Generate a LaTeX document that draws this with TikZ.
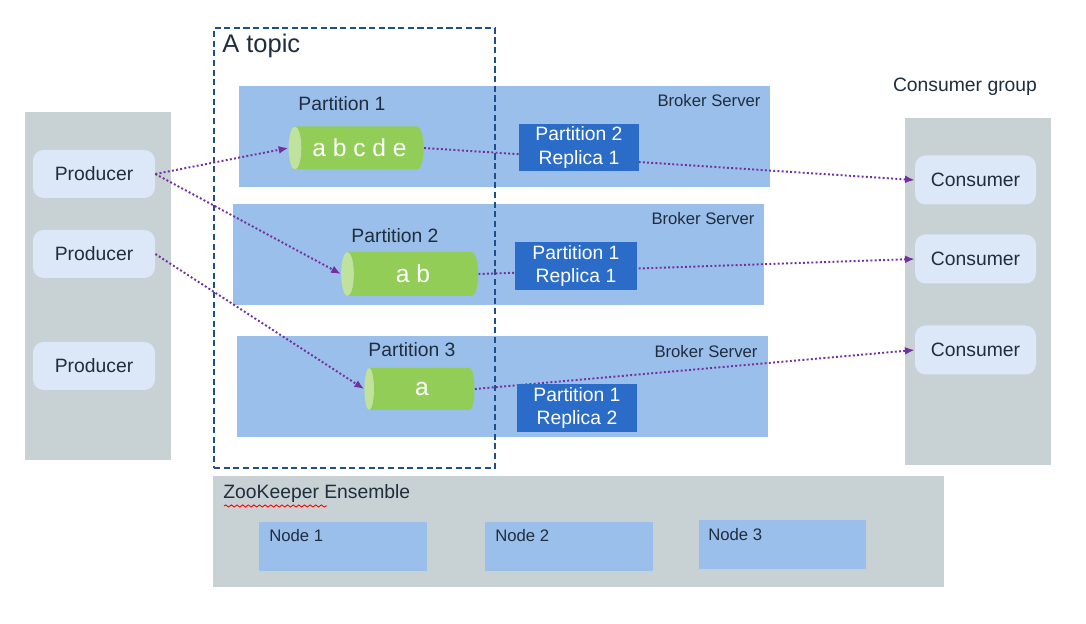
\documentclass[tikz,border=0pt]{standalone}
\usepackage{fontspec}
\setmainfont{Liberation Sans}
\usetikzlibrary{shapes.geometric, arrows.meta, decorations.pathmorphing}
\tikzset{>={Latex[length=5.5pt,width=4.5pt]}}
\definecolor{panelgray}{HTML}{C8D1D3}
\definecolor{brokerblue}{HTML}{9BBFEB}
\definecolor{clientblue}{HTML}{DCE8F7}
\definecolor{partgreen}{HTML}{92CD57}
\definecolor{capgreen}{HTML}{BFE29C}
\definecolor{replicablue}{HTML}{2A6CC7}
\definecolor{topicblue}{HTML}{1F4E8C}
\definecolor{flowpurple}{HTML}{7030A0}
\definecolor{ink}{HTML}{1F2D3D}
\tikzset{
  wh/.style 2 args = {minimum width=#1*0.02cm, minimum height=#2*0.02cm},
  panel/.style = {fill=panelgray, anchor=north west, inner sep=0pt},
  broker/.style = {fill=brokerblue, anchor=north west, inner sep=0pt},
  client/.style = {fill=clientblue, rounded corners=6pt, inner sep=0pt, text=ink, font=\fontsize{11}{13}\selectfont},
  caption/.style = {text=ink, inner sep=0pt, font=\fontsize{11}{13}\selectfont},
  small caption/.style = {text=ink, inner sep=0pt, font=\fontsize{9.5}{11}\selectfont},
  replica/.style = {fill=replicablue, text=white, align=center, inner sep=0pt, font=\fontsize{11}{13.5}\selectfont},
  msgs/.style = {cylinder, shape border rotate=180, aspect=0.7, inner sep=0pt,
     cylinder uses custom fill, cylinder body fill=partgreen, cylinder end fill=capgreen,
     text=white, font=\fontsize{14}{16}\selectfont},
  flow/.style = {->, flowpurple, line width=1.1pt, dash pattern=on 1.1pt off 1.3pt}
}

\begin{document}
\begin{tikzpicture}[x=0.02cm, y=-0.02cm]
	\useasboundingbox (0,0) rectangle (1086,624);

	% Producers
	\node[panel, wh={146}{348}] (prodpanel) at (25,112) {};
	\node[client, wh={122}{48}] (p1) at (94,174) {Producer};
	\node[client, wh={122}{48}] (p2) at (94,254) {Producer};
	\node[client, wh={122}{48}] (p3) at (94,366) {Producer};

	% Consumers
	\node[caption] (cgroup) at (965,87) {Consumer group};
	\node[panel, wh={146}{347}] (conspanel) at (905,118) {};
	\node[client, wh={121}{49}] (c1) at (975.5,180) {Consumer};
	\node[client, wh={121}{49}] (c2) at (975.5,259) {Consumer};
	\node[client, wh={121}{49}] (c3) at (975.5,350) {Consumer};

	% Brokers
	\node[broker, wh={531}{101}] (b1) at (239,86) {};
	\node[broker, wh={531}{101}] (b2) at (233,204) {};
	\node[broker, wh={531}{101}] (b3) at (237,336) {};
	\node[small caption] (b1label) at (709,101) {Broker Server};
	\node[small caption] (b2label) at (703,219) {Broker Server};
	\node[small caption] (b3label) at (706,352) {Broker Server};

	% Topic
	\node[draw=topicblue, line width=1.1pt, dash pattern=on 3.5pt off 2pt, anchor=north west, inner sep=0pt, wh={281}{440}] (topic) at (213,27) {};
	\node[text=ink, anchor=west, inner sep=0pt, font=\fontsize{14.5}{17}\selectfont] (topiclabel) at (222,46) {A topic};

	% Partitions (cylinder: width and height swapped)
	\node[caption] (part1label) at (342,104) {Partition 1};
	\node[msgs, wh={43}{135}] (part1) at (359.5,148) {a b c d e};
	\node[caption] (part2label) at (395,236) {Partition 2};
	\node[msgs, wh={44}{137}] (part2) at (413,274) {a b};
	\node[caption] (part3label) at (412,350) {Partition 3};
	\node[msgs, wh={42}{110}] (part3) at (422,389) {a};

	% Flows
	\draw[flow] (p1.east) -- (part1.west);
	\draw[flow] (p1.east) -- (part2.west);
	\draw[flow] (p2.east) -- (part3.west);
	\draw[flow] (part1.east) -- (c1.west);
	\draw[flow] (part2.east) -- (c2.west);
	\draw[flow] (part3.east) -- (c3.west);

	% Replicas
	\node[replica, wh={120}{47}] (rep1) at (579,147.5) {Partition 2\\Replica 1};
	\node[replica, wh={122}{48}] (rep2) at (576,266) {Partition 1\\Replica 1};
	\node[replica, wh={120}{48}] (rep3) at (577,408) {Partition 1\\Replica 2};

	% ZooKeeper
	\node[panel, wh={731}{111}] (zk) at (213,476) {};
	\node[caption, anchor=west] (zklabel) at (223,494) {ZooKeeper Ensemble};
	\draw[red, line width=0.5pt, decorate, decoration={snake, segment length=3.2pt, amplitude=0.6pt}] (224,506) -- (327,506);
	\node[broker, wh={168}{49}] (z1) at (259,522) {};
	\node[broker, wh={168}{49}] (z2) at (485,522) {};
	\node[broker, wh={167}{49}] (z3) at (699,520) {};
	\node[small caption, anchor=west] (z1label) at ([shift={(10,14)}]z1.north west) {Node 1};
	\node[small caption, anchor=west] (z2label) at ([shift={(10,14)}]z2.north west) {Node 2};
	\node[small caption, anchor=west] (z3label) at ([shift={(9,15)}]z3.north west) {Node 3};
\end{tikzpicture}
\end{document}
